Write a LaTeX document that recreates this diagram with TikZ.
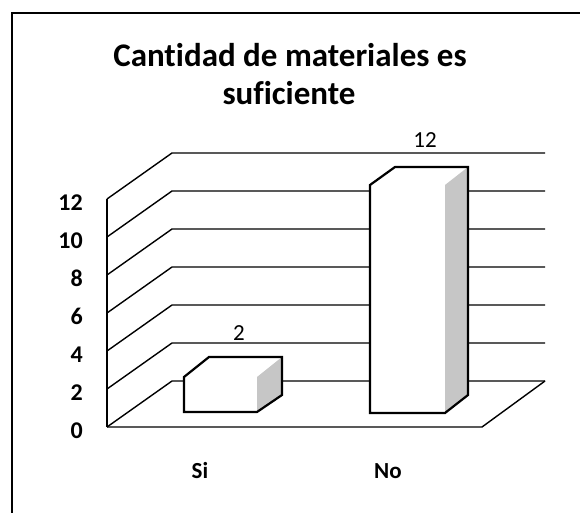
\documentclass[tikz,border=0pt]{standalone}
\usepackage{fontspec}
\setmainfont{Carlito}[Ligatures=CommonOff]
\begin{document}
\begin{tikzpicture}[x=1pt,y=-1pt,
  grid/.style={line width=1.4pt},
  frame/.style={line width=1.5pt},
  barline/.style={line width=2.2pt, line join=miter},
  sideface/.style={fill=gray!45},
  axislabel/.style={anchor=base east, font=\fontsize{24}{24}\selectfont\bfseries, inner sep=0pt},
  catlabel/.style={anchor=base, font=\fontsize{23}{23}\selectfont\bfseries, inner sep=0pt},
  vallabel/.style={anchor=base, font=\fontsize{23}{23}\selectfont, inner sep=0pt},
  title/.style={anchor=base, font=\fontsize{33}{33}\selectfont\bfseries, inner sep=0pt}]
\useasboundingbox (0,0) rectangle (580,513);
% outer frame (left and top visible)
\draw[frame] (12,513) -- (12,13) -- (580,13);
% title
\node[title] (title1) at (290,67) {Cantidad de materiales es};
\node[title] (title2) at (289,105) {suficiente};
% left wall and back wall grid
\draw[grid] (107,199) -- (107,427);
\foreach \i in {0,...,6}{
  \pgfmathsetmacro{\yf}{427-38*\i}
  \pgfmathsetmacro{\yb}{\yf-46}
  \draw[grid] (107,\yf) -- (172,\yb) -- (545,\yb);
}
% floor
\draw[grid] (107,427) -- (482,427) -- (545,381);
% axis labels
\foreach \i in {0,...,6}{
  \pgfmathtruncatemacro{\v}{2*\i}
  \node[axislabel] (ax\i) at (83,438-38*\i) {\v};
}
% bar Si
\fill[white] (184,412) -- (184,377) -- (209,357) -- (282,357) -- (282,395) -- (257,412) -- cycle;
\fill[sideface] (257,412) -- (257,377) -- (282,357) -- (282,395) -- cycle;
\draw[barline] (184,412) -- (184,377) -- (209,357) -- (282,357) -- (282,395) -- (257,412) -- cycle;
% bar No
\fill[white] (370,413) -- (370,185) -- (395,167) -- (468,167) -- (468,395) -- (445,413) -- cycle;
\fill[sideface] (445,413) -- (445,185) -- (468,167) -- (468,395) -- cycle;
\draw[barline] (370,413) -- (370,185) -- (395,167) -- (468,167) -- (468,395) -- (445,413) -- cycle;
% value labels
\node[vallabel] (v2) at (239,340) {2};
\node[vallabel] (v12) at (425,148) {12};
% category labels
\node[catlabel] (si) at (200,478) {Si};
\node[catlabel] (no) at (388,478) {No};
\end{tikzpicture}
\end{document}
